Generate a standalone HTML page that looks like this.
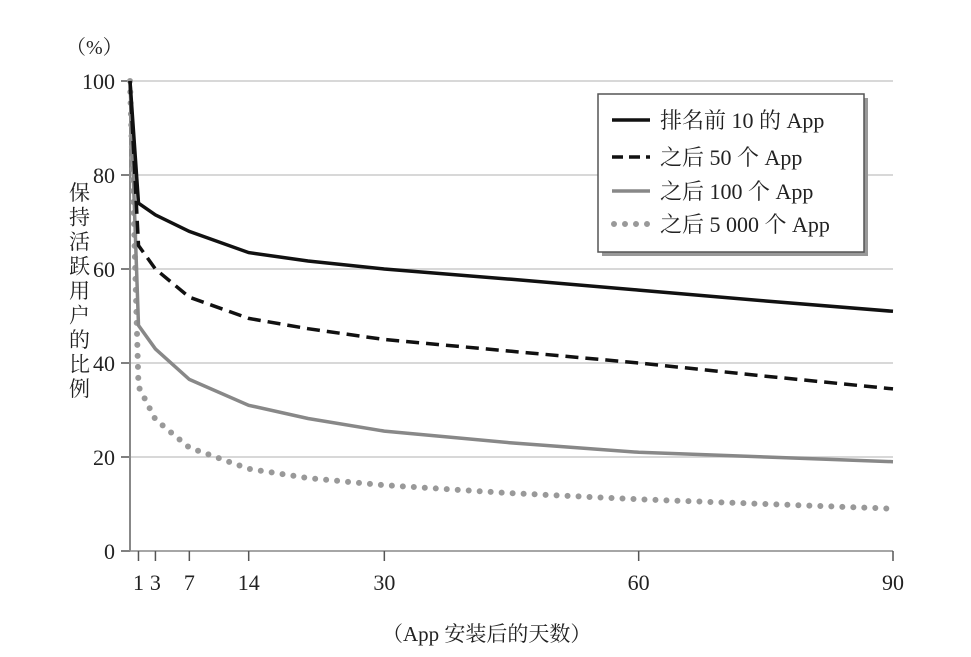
<!DOCTYPE html>
<html><head><meta charset="utf-8"><style>
body{margin:0;background:#fff;}
svg{display:block;font-family:"Liberation Serif","Noto Serif CJK SC",serif;}
</style></head><body>
<svg width="971" height="657">
<g id="grid"></g><g id="axes"></g><g id="series"></g>
<text x="66" y="54" font-size="20" fill="#222">（%）</text>
<text x="382" y="641" font-size="21" fill="#222">（App 安装后的天数）</text>
<g>
<rect x="602" y="98" width="266" height="158" fill="#999"/>
<rect x="598" y="94" width="266" height="158" fill="#fff" stroke="#555" stroke-width="1.5"/>
<g><line x1="612" y1="120" x2="650" y2="120" stroke="#111" stroke-width="3.5"/><text x="660" y="128" font-size="22" fill="#222">排名前 10 的 App</text></g>
<g><line x1="612" y1="157" x2="650" y2="157" stroke="#111" stroke-width="3.5" stroke-dasharray="11,6"/><text x="660" y="165" font-size="22" fill="#222">之后 50 个 App</text></g>
<g><line x1="612" y1="191" x2="650" y2="191" stroke="#888" stroke-width="3.5"/><text x="660" y="199" font-size="22" fill="#222">之后 100 个 App</text></g>
<g><line x1="614" y1="224" x2="650" y2="224" stroke="#999" stroke-width="6" stroke-linecap="round" stroke-dasharray="0,11"/><text x="660" y="232" font-size="22" fill="#222">之后 5 000 个 App</text></g>
</g>
</svg>
<script>
const days=[0,1,3,7,14,21,30,45,60,75,90];
const top10=[100,74,71.5,68,63.5,61.7,60,57.8,55.5,53.2,51];
const next50=[100,65,60,54,49.5,47.3,45,42.5,40,37.2,34.5];
const next100=[100,48,43,36.5,31,28.2,25.5,23,21,20,19];
const next5000=[100,35,28,22,17.5,15.5,14,12.3,11,10,9];
const yTicks=[0,20,40,60,80,100];
const xTicks=[1,3,7,14,30,60,90];
const NS="http://www.w3.org/2000/svg";
const X=d=>130+d*(763/90);
const Y=v=>551-v*4.7;
function mk(tag,attrs,parent){const e=document.createElementNS(NS,tag);for(const k in attrs)e.setAttribute(k,attrs[k]);parent.appendChild(e);return e;}
const grid=document.getElementById('grid'),axes=document.getElementById('axes'),ser=document.getElementById('series');
yTicks.forEach(v=>{
 if(v>0){const g=mk('line',{x1:130,x2:893,y1:Y(v),y2:Y(v),stroke:'#ccc','stroke-width':1.5},grid);
 
 }
 const t=mk('line',{x1:121,x2:130,y1:Y(v),y2:Y(v),stroke:'#555','stroke-width':1.5},axes);
 
 
 const l=mk('text',{x:115,y:Y(v)+8,'text-anchor':'end','font-size':22,fill:'#222'},axes);l.textContent=v;
 
 
});
const ax=mk('line',{x1:130,x2:130,y1:Y(100),y2:Y(0),stroke:'#888','stroke-width':2},axes);


const bx=mk('line',{x1:130,x2:893,y1:Y(0),y2:Y(0),stroke:'#888','stroke-width':1.5},axes);


xTicks.forEach(d=>{
 const t=mk('line',{x1:X(d),x2:X(d),y1:Y(0),y2:Y(0)+10,stroke:'#555','stroke-width':1.5},axes);
 
 
 const l=mk('text',{x:X(d),y:590,'text-anchor':'middle','font-size':22,fill:'#222'},axes);l.textContent=d;
 
 
});
const yt=mk('text',{x:70,y:200,'font-size':21,fill:'#222'},axes);


'保持活跃用户的比例'.split('').forEach((c,i)=>{const s=mk('tspan',{x:69,y:200+i*24.5},yt);s.textContent=c;});
function line(vals,attrs,name){
 const d=vals.map((v,i)=>(i?'L':'M')+X(days[i]).toFixed(1)+','+Y(v).toFixed(1)).join(' ');
 const p=mk('path',Object.assign({d:d,fill:'none'},attrs),ser);
 
 
}
line(next5000,{stroke:'#999','stroke-width':6,'stroke-linecap':'round','stroke-dasharray':'0,11'},'series-next-5000');
line(next100,{stroke:'#888','stroke-width':3.5},'series-next-100');
line(next50,{stroke:'#111','stroke-width':3.5,'stroke-dasharray':'13,7'},'series-next-50');
line(top10,{stroke:'#111','stroke-width':3.5},'series-top-10');
</script>
</body></html>
